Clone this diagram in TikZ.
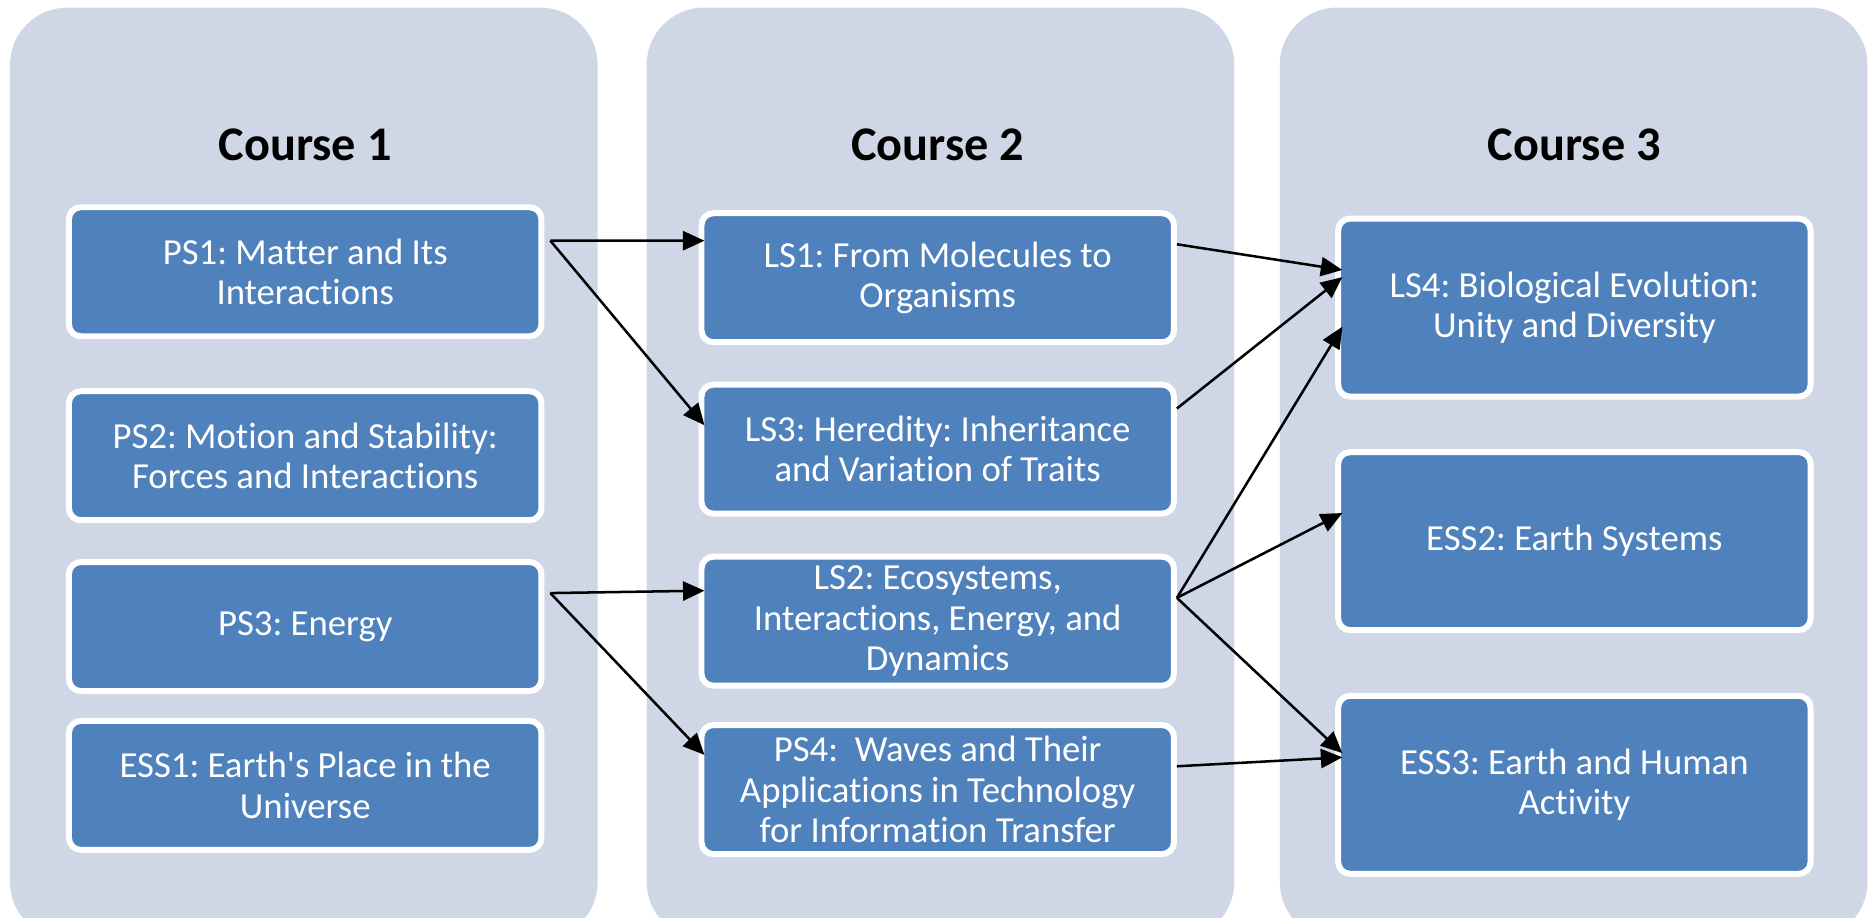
\documentclass[tikz,border=0pt]{standalone}
\usepackage{fontspec}
\setmainfont{Carlito}[Ligatures={TeX,NoCommon}]
\usetikzlibrary{arrows.meta,positioning}
\definecolor{panelgray}{RGB}{207,215,230}
\definecolor{boxblue}{RGB}{79,129,189}
\frenchspacing

\begin{document}
\begin{tikzpicture}[
  node distance=6mm,
  >={Triangle[length=3.6mm,width=3.2mm]},
  panel/.style={fill=panelgray, rounded corners=9.6mm, minimum width=98.4mm, minimum height=156mm, anchor=north west, inner sep=0pt},
  title/.style={font=\fontsize{23}{27}\selectfont\bfseries},
  topic/.style={draw=white, line width=1mm, fill=boxblue, rounded corners=2mm, text=white, align=center, minimum width=79.1mm, minimum height=21.6mm, inner sep=0pt, font=\fontsize{17.5}{19.2}\selectfont},
  tall/.style={minimum height=29.8mm},
  arr/.style={->, line width=1.2pt}
]
\useasboundingbox (0,0) rectangle (31.36,-15.36);
\clip (0,0) rectangle (31.36,-15.36);

% Colonnes
\node[panel] (col1) at (0.16,-0.12) {};
\node[panel] (col2) at (10.82,-0.12) {};
\node[panel] (col3) at (21.42,-0.12) {};
\node[title] (t1) at (5.11,-2.42) {Course 1};
\node[title] (t2) at (15.70,-2.42) {Course 2};
\node[title] (t3) at (26.36,-2.42) {Course 3};

% Course 1
\node[topic] (ps1) at (5.11,-4.55) {PS1: Matter and Its\\Interactions};
\node[topic, below=8.2mm of ps1] (ps2) {PS2: Motion and Stability:\\Forces and Interactions};
\node[topic, below=6mm of ps2] (ps3) {PS3: Energy};
\node[topic, below=4mm of ps3] (ess1) {ESS1: Earth\textquotesingle s Place in the\\Universe};

% Course 2
\node[topic] (ls1) at (15.70,-4.65) {LS1: From Molecules to\\Organisms};
\node[topic, below=6.1mm of ls1] (ls3) {LS3: Heredity: Inheritance\\and Variation of Traits};
\node[topic, below=6.2mm of ls3] (ls2) {LS2: Ecosystems,\\Interactions, Energy, and\\Dynamics};
\node[topic, below=5.6mm of ls2] (ps4) {PS4:~ Waves and Their\\Applications in Technology\\for Information Transfer};

% Course 3
\node[topic, tall] (ls4) at (26.36,-5.15) {LS4: Biological Evolution:\\Unity and Diversity};
\node[topic, tall, below=8.3mm of ls4] (ess2) {ESS2: Earth Systems};
\node[topic, tall, below=10mm of ess2] (ess3) {ESS3: Earth and Human\\Activity};

% Fleches
\coordinate (ps1o) at ([xshift=1mm,yshift=5.2mm]ps1.east);
\coordinate (ps3o) at ([xshift=1mm,yshift=5.6mm]ps3.east);
\coordinate (ls2o) at ([yshift=3.9mm]ls2.east);
\draw[arr] (ps1o) -- ([xshift=1mm,yshift=6.2mm]ls1.west);
\draw[arr] (ps1o) -- ([xshift=1mm,yshift=4mm]ls3.west);
\draw[arr] (ps3o) -- ([xshift=1mm,yshift=5.1mm]ls2.west);
\draw[arr] (ps3o) -- ([xshift=1mm,yshift=5.8mm]ps4.west);
\draw[arr] ([yshift=5.6mm]ls1.east) -- ([xshift=1.2mm,yshift=6.3mm]ls4.west);
\draw[arr] ([yshift=6.8mm]ls3.east) -- ([xshift=1.2mm,yshift=5.1mm]ls4.west);
\draw[arr] (ls2o) -- ([xshift=1.2mm,yshift=-3.2mm]ls4.west);
\draw[arr] (ls2o) -- ([xshift=1.2mm,yshift=4.7mm]ess2.west);
\draw[arr] (ls2o) -- ([xshift=1.2mm,yshift=5.3mm]ess3.west);
\draw[arr] ([yshift=3.9mm]ps4.east) -- ([xshift=1.2mm,yshift=4.6mm]ess3.west);

\end{tikzpicture}
\end{document}
